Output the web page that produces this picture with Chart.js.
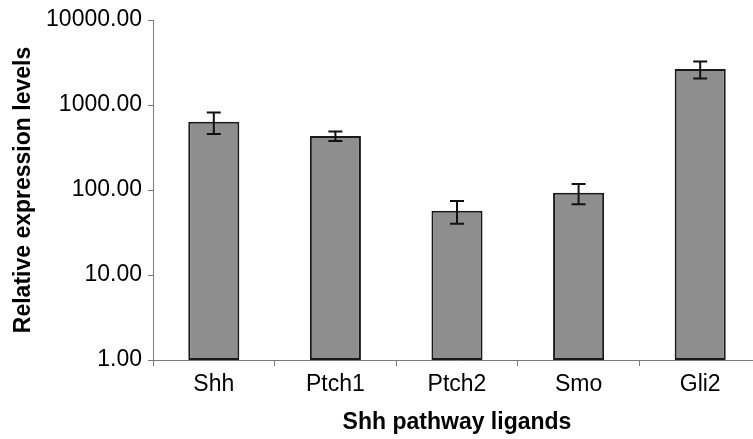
<!DOCTYPE html>
<html lang="en">
<head>
    <meta charset="UTF-8">
    <title>Shh pathway ligands</title>
    <script src="https://cdn.jsdelivr.net/npm/chart.js"></script>
    <style>
        html, body { margin: 0; padding: 0; background: #fff; overflow: hidden; }
        #wrap { width: 761px; height: 439px; }
    </style>
</head>
<body>
    <div id="wrap">
        <canvas id="barChart"></canvas>
    </div>

    <script>
        // data
        const ligands = ['Shh', 'Ptch1', 'Ptch2', 'Smo', 'Gli2'];
        const levels = [636, 432, 57, 93, 2650];
        const errors = [180, 55, 17, 25, 600];
        const yTickValues = [1, 10, 100, 1000, 10000];

        const axisColor = '#7a7a7a';
        const fontFamily = '"Liberation Sans", Arial, sans-serif';

        // error bars drawn through the y scale
        const errorBarPlugin = {
            id: 'errorBars',
            afterDatasetsDraw(chart) {
                const ctx = chart.ctx;
                const yScale = chart.scales.y;
                const meta = chart.getDatasetMeta(0);
                ctx.save();
                ctx.strokeStyle = '#111';
                ctx.lineWidth = 2;
                meta.data.forEach((bar, i) => {
                    const x = bar.x;
                    const top = yScale.getPixelForValue(levels[i] + errors[i]);
                    const bottom = yScale.getPixelForValue(levels[i] - errors[i]);
                    const cap = 7;
                    ctx.beginPath();
                    ctx.moveTo(x, top);
                    ctx.lineTo(x, bottom);
                    ctx.moveTo(x - cap, top);
                    ctx.lineTo(x + cap, top);
                    ctx.moveTo(x - cap, bottom);
                    ctx.lineTo(x + cap, bottom);
                    ctx.stroke();
                });
                ctx.restore();
            }
        };

        const ctx = document.getElementById('barChart').getContext('2d');
        new Chart(ctx, {
            type: 'bar',
            data: {
                labels: ligands,
                datasets: [{
                    data: levels,
                    backgroundColor: '#8e8e8e',
                    borderColor: '#1a1a1a',
                    borderWidth: 2,
                    borderSkipped: false,
                    categoryPercentage: 1.0,
                    barPercentage: 0.42
                }]
            },
            options: {
                responsive: true,
                maintainAspectRatio: false,
                animation: false,
                layout: {
                    padding: { top: 20, right: 0, bottom: 0, left: 0 }
                },
                plugins: {
                    legend: { display: false },
                    tooltip: { enabled: false }
                },
                scales: {
                    x: {
                        afterFit(scale) { scale.height = 79; },
                        grid: {
                            offset: true,
                            drawOnChartArea: false,
                            drawTicks: true,
                            tickLength: 6,
                            color: axisColor,
                            lineWidth: 1
                        },
                        border: { display: true, color: axisColor, width: 1 },
                        ticks: {
                            color: '#000',
                            padding: 5,
                            font: { family: fontFamily, size: 23 }
                        },
                        title: {
                            display: true,
                            text: 'Shh pathway ligands',
                            color: '#000',
                            padding: { top: 0, bottom: 3 },
                            font: { family: fontFamily, size: 23, weight: 'bold' }
                        }
                    },
                    y: {
                        type: 'logarithmic',
                        min: 1,
                        max: 10000,
                        afterFit(scale) { scale.width = 153; },
                        afterBuildTicks(scale) {
                            scale.ticks = yTickValues.map(v => ({ value: v }));
                        },
                        grid: {
                            drawOnChartArea: false,
                            drawTicks: true,
                            tickLength: 5,
                            color: axisColor
                        },
                        border: { display: true, color: axisColor, width: 1 },
                        ticks: {
                            color: '#000',
                            padding: 6,
                            autoSkip: false,
                            font: { family: fontFamily, size: 23 },
                            callback: v => Number(v).toFixed(2)
                        },
                        title: {
                            display: true,
                            text: 'Relative expression levels',
                            color: '#000',
                            padding: { top: 10, bottom: 0 },
                            font: { family: fontFamily, size: 23, weight: 'bold' }
                        }
                    }
                }
            },
            plugins: [errorBarPlugin]
        });
    </script>
</body>
</html>
